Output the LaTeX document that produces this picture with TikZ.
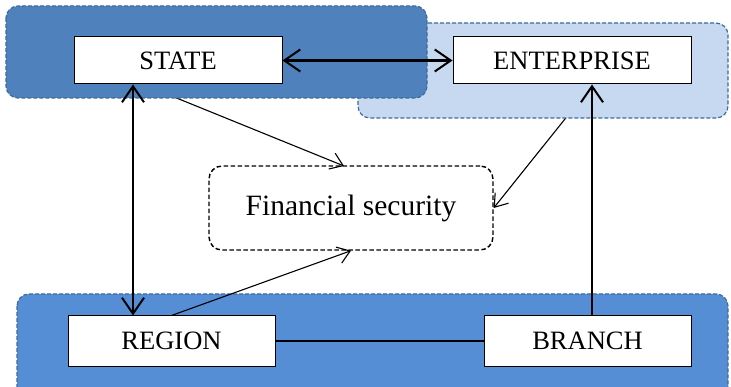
\documentclass[tikz,border=0pt]{standalone}
\usepackage{fontspec}
\setmainfont{Liberation Serif}
\usetikzlibrary{arrows.meta,calc}
\pgfdeclarelayer{back}
\pgfdeclarelayer{panels}
\pgfsetlayers{back,panels,main}
\definecolor{darkpanel}{HTML}{4F81BD}
\definecolor{lightpanel}{HTML}{C6D9F1}
\definecolor{lowpanel}{HTML}{558ED5}
\definecolor{panelborder}{HTML}{3E6A9C}
\begin{document}
\begin{tikzpicture}[x=1pt,y=-1pt,
  panel/.style={draw=panelborder,line width=1.2pt,dash pattern=on 4pt off 2pt,rounded corners=12pt},
  unit/.style={draw=black,fill=white,line width=1pt,inner sep=0pt,font=\fontsize{26.5}{30}\selectfont},
  goal/.style={draw=black,line width=1.4pt,dash pattern=on 4.5pt off 2.5pt,rounded corners=13pt,inner sep=0pt,font=\fontsize{29.5}{33}\selectfont},
  bold/.style={line width=2.2pt},
  thin/.style={line width=1.1pt},
  bigtip/.style={-{Straight Barb[length=16pt,width=22pt,line width=2pt]}},
  bigtips/.style={{Straight Barb[length=16pt,width=22pt,line width=2pt]}-{Straight Barb[length=16pt,width=22pt,line width=2pt]}},
  smalltip/.style={-{Straight Barb[length=12pt,width=17pt,line width=1.1pt]}}]
\useasboundingbox (0,0) rectangle (731,387);

\node[unit,minimum width=208pt,minimum height=47pt] (state) at (178,60.5) {STATE};
\node[unit,minimum width=238pt,minimum height=47pt] (ent) at (572,60.5) {ENTERPRISE};
\node[goal,minimum width=284pt,minimum height=84pt] (fs) at (351,208) {Financial security};
\node[unit,minimum width=207pt,minimum height=50pt] (region) at (171.5,341) {REGION};
\node[unit,minimum width=207pt,minimum height=50pt] (branch) at (587.5,341) {BRANCH};

\coordinate (sx) at (133,0);
\coordinate (bx) at (592,0);
\coordinate (s1) at (142,84);
\coordinate (f1) at (344,166);
\coordinate (e1) at (593,84);

\begin{pgfonlayer}{panels}
\draw[panel,fill=lightpanel] (358,23) rectangle (728,118);
\draw[panel,fill=darkpanel] (6,6) rectangle (427,98);
\draw[panel,fill=lowpanel] (17,294) rectangle (728,400);
\end{pgfonlayer}

\begin{pgfonlayer}{back}
\draw[thin,smalltip] (s1) -- (f1);
\draw[thin,smalltip] (e1) -- (fs.east);
\end{pgfonlayer}

\draw[thin,smalltip] (region.north) -- (fs.south);
\draw[bold,bigtips] (state.east) -- (ent.west);
\draw[bold,bigtips] (state.south -| sx) -- (region.north -| sx);
\draw[bold,bigtip] (branch.north -| bx) -- (ent.south -| bx);
\draw[bold] (region.east) -- (branch.west);
\end{tikzpicture}
\end{document}
